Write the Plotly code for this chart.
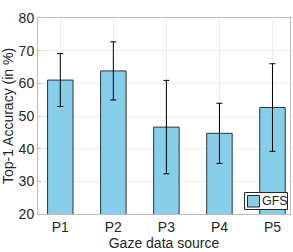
import plotly.graph_objects as go

categories = ["P1", "P2", "P3", "P4", "P5"]
accuracy = [61.0, 63.8, 46.6, 44.7, 52.6]
err = [8.1, 8.9, 14.3, 9.2, 13.4]
yticks = [20, 30, 40, 50, 60, 70, 80]
series_name = "GFS"
bar_color = "#87CEEB"

fig = go.Figure()
fig.add_trace(go.Bar(
    x=[1, 2, 3, 4, 5], y=accuracy, name=series_name, width=0.48,
    marker=dict(color=bar_color, line=dict(color="#333333", width=1)),
    error_y=dict(type="data", array=err, visible=True, color="#000000",
                 thickness=1, width=3),
    showlegend=False,
))

# legend box (drawn in paper coordinates)
W, H = 293, 252
L, R, T, B = 38, 3, 18, 38
pw, ph = W - L - R, H - T - B
def px(x):
    return (x - L) / pw
def py(y):
    return (H - B - y) / ph

fig.add_shape(type="rect", xref="paper", yref="paper",
              x0=px(244.5), x1=px(287.5), y0=py(209.5), y1=py(192.5),
              line=dict(color="#262626", width=1), fillcolor="white")
fig.add_shape(type="rect", xref="paper", yref="paper",
              x0=px(247.5), x1=px(259.5), y0=py(207), y1=py(195.5),
              line=dict(color="#262626", width=1), fillcolor=bar_color)
fig.add_annotation(xref="paper", yref="paper", x=px(260), y=py(201),
                   text=series_name, showarrow=False, xanchor="left", yanchor="middle",
                   font=dict(size=12.5, color="#262626"))

fig.update_layout(
    width=W, height=H,
    margin=dict(l=L, r=R, t=T, b=B, autoexpand=False),
    paper_bgcolor="white", plot_bgcolor="white",
    font=dict(family="Liberation Sans, Arial, sans-serif", size=14, color="#262626"),
    showlegend=False,
)
fig.update_xaxes(
    range=[0.58, 5.33], tickvals=[1, 2, 3, 4, 5], ticktext=categories,
    showgrid=True, gridcolor="#ececec", gridwidth=1,
    showline=True, linecolor="#bdbdbd", mirror=True, ticks="inside", ticklen=3,
    tickcolor="#bdbdbd", tickfont=dict(size=14),
    title=dict(text="Gaze data source", font=dict(size=14), standoff=4),
    zeroline=False, automargin=False,
)
fig.update_yaxes(
    range=[20, 80], tickvals=yticks,
    showgrid=True, gridcolor="#ececec", gridwidth=1,
    showline=True, linecolor="#bdbdbd", mirror=True, ticks="inside", ticklen=3,
    tickcolor="#bdbdbd", tickfont=dict(size=14),
    title=dict(text="Top-1 Accuracy (in %)", font=dict(size=14), standoff=2),
    zeroline=False, automargin=False,
)
fig.write_html("out.html", config={"displayModeBar": False},
               post_script="document.body.style.margin='0px';")
